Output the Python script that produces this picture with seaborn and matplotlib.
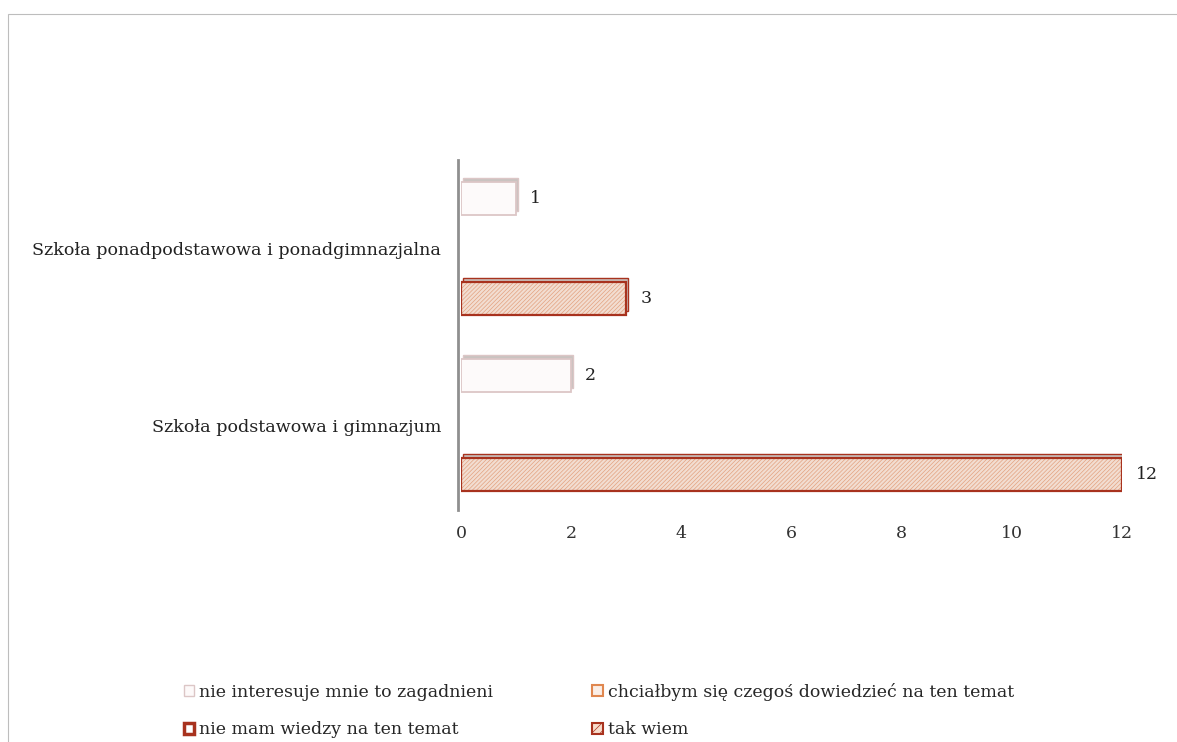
import pandas as pd
import seaborn as sns
import matplotlib.pyplot as plt
from matplotlib.patches import Rectangle, Patch

# dane z wykresu
szkoly = ["Szkoła ponadpodstawowa i ponadgimnazjalna", "Szkoła podstawowa i gimnazjum"]
odpowiedzi = ["nie interesuje mnie to zagadnieni",
              "chciałbym się czegoś dowiedzieć na ten temat",
              "nie mam wiedzy na ten temat",
              "tak wiem"]
nie_interesuje = [1, 2]
chcialbym = [0, 0]
nie_mam_wiedzy = [0, 0]
tak_wiem = [3, 12]
x_ticks = [0, 2, 4, 6, 8, 10, 12]

rows = []
for nazwa, wartosci in zip(odpowiedzi, [nie_interesuje, chcialbym, nie_mam_wiedzy, tak_wiem]):
    for s, v in zip(szkoly, wartosci):
        rows.append(dict(Szkola=s, Odpowiedz=nazwa, Liczba=v))
df = pd.DataFrame(rows)

sns.set_style("white")
plt.rcParams['font.family'] = ['DejaVu Serif']
plt.rcParams['hatch.linewidth'] = 0.5

face = ["#fdf9f9", "#fbeee6", "#ffffff", "#f8dccb"]
edge = ["#dcc6c6", "#e0874f", "#a8321e", "#a8321e"]
hatch_col = "#e3a27f"

fig = plt.figure(figsize=(11.77, 7.42), dpi=100)
ax = fig.add_axes([0.3917, 0.3127, 0.5616, 0.4717])

sns.barplot(data=df, x='Liczba', y='Szkola', hue='Odpowiedz', hue_order=odpowiedzi,
            orient='h', width=0.75, palette=face, ax=ax, legend=False)

for i, cont in enumerate(ax.containers):
    for p in cont.patches:
        if p.get_width() == 0:
            p.set_visible(False)
            continue
        # gorna scianka 3D
        sh = Rectangle((p.get_x() + 0.04, p.get_y() - 0.022), p.get_width(), p.get_height(),
                       facecolor="#c9c3c0", edgecolor=edge[i], linewidth=1.0, zorder=1.5)
        ax.add_patch(sh)
        if i == 3:
            p.set_hatch('////////')
            p.set_edgecolor(hatch_col)
            p.set_linewidth(0)
            ax.add_patch(Rectangle((p.get_x(), p.get_y()), p.get_width(), p.get_height(),
                                   fill=False, edgecolor=edge[i], linewidth=1.6, zorder=3))
        else:
            p.set_edgecolor(edge[i])
            p.set_linewidth(1.3)
        p.set_zorder(2)
    labels = [str(int(v)) if v > 0 else "" for v in cont.datavalues]
    ax.bar_label(cont, labels=labels, padding=10, fontsize=12.5, color="#222222")

ax.set_xlim(0, 12)
ax.set_ylim(1.48, -0.5)
ax.set_xticks(x_ticks)
ax.set_xticklabels([str(t) for t in x_ticks])
ax.tick_params(axis='x', length=0, pad=11, labelsize=12.5, colors="#333333")
ax.tick_params(axis='y', length=0, pad=12.5, labelsize=12.6, colors="#222222")
ax.set_xlabel("")
ax.set_ylabel("")
for side in ['top', 'right', 'bottom']:
    ax.spines[side].set_visible(False)
ax.spines['left'].set_color("#8f8f8f")
ax.spines['left'].set_linewidth(2)
ax.spines['left'].set_position(('data', -0.05))

# legenda
handles = [Patch(facecolor=face[0], edgecolor=edge[0], linewidth=1.0),
           Patch(facecolor=face[1], edgecolor=edge[1], linewidth=1.5),
           Patch(facecolor=face[2], edgecolor=edge[2], linewidth=2.5),
           Patch(facecolor=face[3], edgecolor=edge[3], hatch='////', linewidth=1.5)]
order = [0, 2, 1, 3]
fig.legend([handles[k] for k in order], [odpowiedzi[k] for k in order],
           loc='upper left', bbox_to_anchor=(0.156, 0.08), ncol=2, frameon=False,
           fontsize=12.5, handlelength=0.6, handleheight=0.6, handletextpad=0.3,
           labelspacing=1.2, columnspacing=5.7, borderaxespad=0, borderpad=0)

# ramka
fig.add_artist(Rectangle((8 / 1177, -0.01), 1.0, 0.981 + 0.01, transform=fig.transFigure,
                         fill=False, edgecolor="#bdbdbd", linewidth=0.8))

fig.savefig("out.png", dpi=100)
